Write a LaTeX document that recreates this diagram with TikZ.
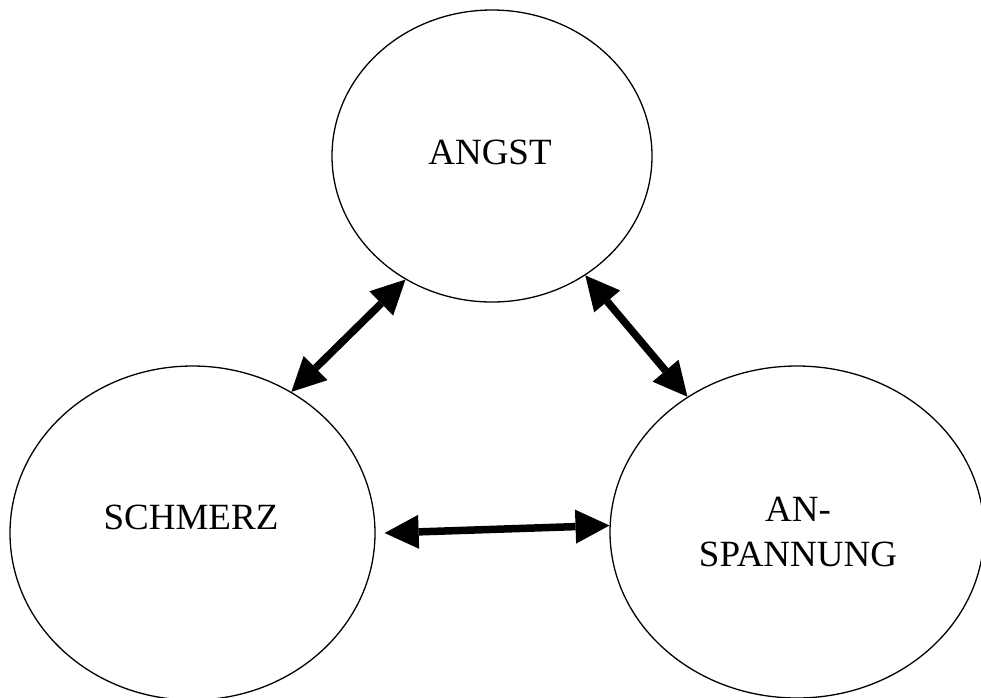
\documentclass[tikz,border=0pt]{standalone}
\usepackage{fontspec}
\setmainfont{Liberation Serif}
\usetikzlibrary{shapes.geometric,arrows.meta}
\begin{document}
\begin{tikzpicture}[x=1pt,y=-1pt,
  bubble/.style={draw=black,line width=1.3pt,ellipse,inner sep=0pt},
  lbl/.style={font=\fontsize{37}{45}\selectfont,align=center,inner sep=0pt},
  link/.style={line width=7.5pt,{Triangle[length=34pt,width=34pt,line width=0pt]}-{Triangle[length=34pt,width=34pt,line width=0pt]}}]
\useasboundingbox (0,0) rectangle (981,697);
\node[bubble,minimum width=320pt,minimum height=292pt] (A) at (492,156) {};
\node[bubble,minimum width=365pt,minimum height=334pt] (S) at (192.5,533) {};
\node[bubble,minimum width=374pt,minimum height=332pt] (P) at (797,532) {};
\node[lbl] (tA) at (490,152) {ANGST};
\node[lbl] (tS) at (191,517) {SCHMERZ};
\node[lbl] (tP) at (798,532) {AN-\\SPANNUNG};
\coordinate (sR) at ([xshift=9pt]S.-0.6);
\draw[link] (S.55) -- (A.235);
\draw[link] (A.308) -- (P.129);
\draw[link] (sR) -- (P.178.8);
\end{tikzpicture}
\end{document}
